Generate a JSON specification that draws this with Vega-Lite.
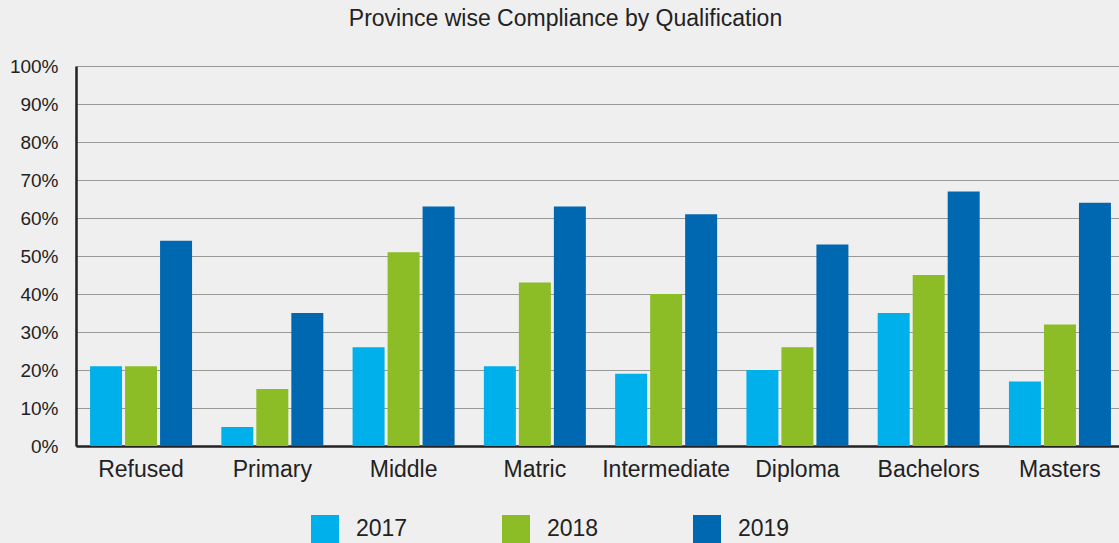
{
  "$schema": "https://vega.github.io/schema/vega-lite/v6.json",
  "autosize": {"type": "none"},
  "width": 1049,
  "height": 380,
  "padding": {"left": 76, "top": 66, "right": 0, "bottom": 97},
  "background": "#efefef",
  "title": {
    "text": "Province wise Compliance by Qualification",
    "font": "Liberation Sans",
    "fontSize": 23,
    "fontWeight": "normal",
    "color": "#222222",
    "anchor": "middle",
    "dx": -35,
    "offset": 26
  },
  "data": {
    "values": [
      {"q": "Refused", "year": "2017", "v": 21},
      {"q": "Refused", "year": "2018", "v": 21},
      {"q": "Refused", "year": "2019", "v": 54},
      {"q": "Primary", "year": "2017", "v": 5},
      {"q": "Primary", "year": "2018", "v": 15},
      {"q": "Primary", "year": "2019", "v": 35},
      {"q": "Middle", "year": "2017", "v": 26},
      {"q": "Middle", "year": "2018", "v": 51},
      {"q": "Middle", "year": "2019", "v": 63},
      {"q": "Matric", "year": "2017", "v": 21},
      {"q": "Matric", "year": "2018", "v": 43},
      {"q": "Matric", "year": "2019", "v": 63},
      {"q": "Intermediate", "year": "2017", "v": 19},
      {"q": "Intermediate", "year": "2018", "v": 40},
      {"q": "Intermediate", "year": "2019", "v": 61},
      {"q": "Diploma", "year": "2017", "v": 20},
      {"q": "Diploma", "year": "2018", "v": 26},
      {"q": "Diploma", "year": "2019", "v": 53},
      {"q": "Bachelors", "year": "2017", "v": 35},
      {"q": "Bachelors", "year": "2018", "v": 45},
      {"q": "Bachelors", "year": "2019", "v": 67},
      {"q": "Masters", "year": "2017", "v": 17},
      {"q": "Masters", "year": "2018", "v": 32},
      {"q": "Masters", "year": "2019", "v": 64}
    ]
  },
  "mark": {"type": "bar"},
  "encoding": {
    "x": {
      "field": "q",
      "type": "nominal",
      "sort": null,
      "scale": {"paddingInner": 0.223, "paddingOuter": 0.107},
      "axis": {
        "title": null,
        "labelAngle": 0,
        "labelFont": "Liberation Sans",
        "labelFontSize": 23,
        "labelColor": "#222222",
        "labelPadding": 12,
        "ticks": false,
        "domainColor": "#222222",
        "domainWidth": 2.5,
        "grid": false
      }
    },
    "xOffset": {
      "field": "year",
      "type": "nominal",
      "scale": {"paddingInner": 0.086}
    },
    "y": {
      "field": "v",
      "type": "quantitative",
      "scale": {"domain": [0, 100]},
      "axis": {
        "title": null,
        "values": [0, 10, 20, 30, 40, 50, 60, 70, 80, 90, 100],
        "labelExpr": "datum.value + '%'",
        "labelFont": "Liberation Sans",
        "labelFontSize": 19,
        "labelColor": "#222222",
        "labelPadding": 18,
        "ticks": false,
        "domainColor": "#222222",
        "domainWidth": 2.5,
        "grid": true,
        "gridColor": "#999999",
        "gridWidth": 1
      }
    },
    "color": {
      "field": "year",
      "type": "nominal",
      "scale": {"domain": ["2017", "2018", "2019"], "range": ["#00B0EA", "#8CBC26", "#0068B1"]},
      "legend": {
        "title": null,
        "orient": "none",
        "legendX": 235,
        "legendY": 449,
        "direction": "horizontal",
        "columns": 3,
        "columnPadding": 94,
        "symbolType": "square",
        "symbolSize": 784,
        "symbolStrokeWidth": 0,
        "labelFont": "Liberation Sans",
        "labelFontSize": 23,
        "labelColor": "#222222",
        "labelOffset": 17
      }
    }
  },
  "config": {
    "view": {"stroke": null}
  }
}
